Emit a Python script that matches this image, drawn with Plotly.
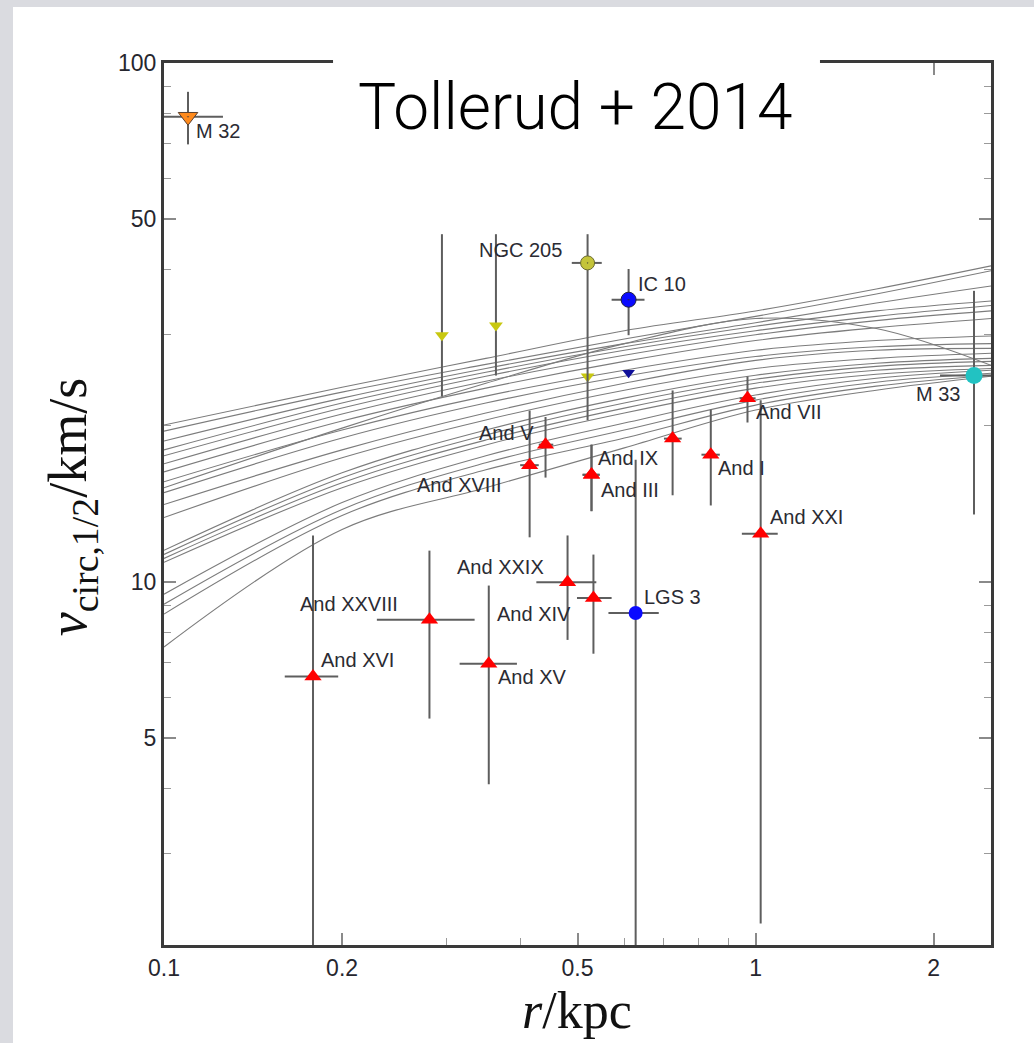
import numpy as np
import plotly.graph_objects as go

# ---- rotation curves of simulated satellites: radius (kpc) and v_circ (km/s) ----
curve_r = [0.1, 0.2, 0.35, 0.6, 1.0, 1.6, 2.5]
curves_v = [
    [20.07, 23.74, 26.98, 30.5, 33.3, 36.7, 40.66],
    [19.54, 23.23, 26.27, 29.4, 32.5, 35.9, 39.8],
    [18.7, 22.62, 25.8, 28.8, 31.6, 34.5, 37.2],
    [17.98, 22.13, 25.36, 28.4, 31.1, 33.3, 34.8],
    [17.51, 21.64, 24.92, 27.96, 30.5, 32.5, 34.1],
    [16.9, 21.08, 24.38, 27.35, 29.95, 31.9, 33.3],
    [16.31, 20.43, 23.64, 26.62, 29.2, 30.9, 32.2],
    [15.61, 19.63, 22.82, 25.6, 27.96, 29.2, 29.8],
    [14.87, 18.95, 22.13, 24.92, 27.2, 28.4, 28.8],
    [15.2, 19.8, 24.16, 28.8, 32.2, 30.8, 26.16],
    [14.11, 17.98, 21.17, 24.16, 26.74, 27.96, 28.2],
    [13.32, 17.36, 20.53, 23.43, 25.8, 26.98, 27.6],
    [11.52, 16.24, 19.63, 22.62, 25.03, 26.4, 26.98],
    [11.31, 15.89, 19.2, 22.13, 24.59, 26.04, 26.62],
    [11.11, 15.54, 18.78, 21.64, 24.16, 25.6, 26.16],
    [10.92, 15.2, 18.38, 21.17, 23.64, 25.14, 25.8],
    [9.48, 14.23, 17.51, 20.25, 22.93, 24.7, 25.6],
    [9.07, 13.8, 16.98, 19.63, 22.42, 24.27, 25.25],
    [8.68, 13.44, 16.46, 18.95, 21.93, 23.85, 25.03],
    [7.50, 12.63, 15.2, 18.14, 21.45, 23.43, 24.92],
]

# ---- M31 satellites: half-light radius and circular velocity with ranges ----
gal_names = ["M 32", "NGC 205", "", "", "", "IC 10", "", "M 33",
             "And XVI", "And XXVIII", "And XV", "And XXIX", "And XIV",
             "And XVIII", "And V", "And IX", "And III", "", "And I",
             "And VII", "And XXI", "LGS 3"]
gal_kind = ["m32", "n205", "ylim", "ylim", "ylim", "ic10", "blim", "m33",
            "dsph", "dsph", "dsph", "dsph", "dsph",
            "dsph", "dsph", "dsph", "dsph", "dsph", "dsph",
            "dsph", "dsph", "lgs3"]
gal_r = [0.1098, 0.520, 0.295, 0.364, 0.520, 0.610, 0.610, 2.34,
         0.1786, 0.281, 0.354, 0.481, 0.532,
         0.415, 0.4415, 0.528, 0.528, 0.724, 0.840,
         0.969, 1.02, 0.627]
gal_v = [78.8, 41.2, 29.9, 31.2, 24.9, 35.0, 25.3, 25.0,
         6.58, 8.46, 6.96, 10.0, 9.32,
         16.8, 18.4, 16.1, 16.1, 18.9, 17.6,
         22.6, 12.4, 8.72]
gal_r_lo = [0.1, 0.489, 0.295, 0.364, 0.520, 0.571, 0.610, 2.05,
            0.160, 0.229, 0.316, 0.426, 0.499,
            0.40, 0.43, 0.51, 0.51, 0.70, 0.81,
            0.94, 0.948, 0.564]
gal_r_hi = [0.1258, 0.5495, 0.295, 0.364, 0.520, 0.649, 0.610, 2.7,
            0.197, 0.335, 0.395, 0.538, 0.571,
            0.43, 0.455, 0.545, 0.545, 0.75, 0.87,
            1.0, 1.09, 0.686]
gal_v_lo = [69.7, 20.5, 22.8, 25.0, 24.9, 29.9, 25.3, 13.5,
            1.5, 5.46, 4.08, 7.74, 7.28,
            12.2, 15.9, 13.7, 13.7, 14.7, 14.05,
            20.3, 2.2, 1.5]
gal_v_hi = [88.0, 46.8, 46.8, 46.8, 24.9, 40.1, 25.3, 36.4,
            12.3, 11.5, 9.85, 12.3, 11.3,
            21.4, 20.8, 18.4, 18.4, 23.4, 21.5,
            24.9, 22.4, 17.2]

# label placement relative to each marker (pixels, anchor side)
label_offsets = {
    "M 32": (6, -14, "left"), "NGC 205": (-24, 13, "right"),
    "IC 10": (7, 16, "left"), "M 33": (-12, -18, "right"),
    "And XVI": (6, 17, "left"), "And XXVIII": (-29, 16, "right"),
    "And XV": (7, -13, "left"), "And XXIX": (-22, 15, "right"),
    "And XIV": (-20, -16, "right"), "And XVIII": (-26, -20, "right"),
    "And V": (-10, 12, "right"), "And IX": (4, 17, "left"),
    "And III": (7, -15, "left"), "And I": (5, -13, "left"),
    "And VII": (7, -14, "left"), "And XXI": (7, 17, "left"),
    "LGS 3": (6, 16, "left"),
}

marker_styles = {
    "m32": dict(symbol="triangle-down-dot", size=17, color="#ff8a1c",
                line=dict(color="#5a4030", width=1)),
    "n205": dict(symbol="circle-dot", size=14, color="#c4c43a",
                 line=dict(color="#6a6a30", width=1)),
    "ylim": dict(symbol="triangle-down", size=12, color="#c8c810", line=dict(width=0)),
    "blim": dict(symbol="triangle-down", size=11, color="#10109a", line=dict(width=0)),
    "ic10": dict(symbol="circle-dot", size=15, color="#0a0aff",
                 line=dict(color="#202040", width=1)),
    "m33": dict(symbol="circle", size=17, color="#22c2c2", line=dict(width=0)),
    "dsph": dict(symbol="triangle-up", size=15, color="#ff0000", line=dict(width=0)),
    "lgs3": dict(symbol="circle", size=14, color="#0a0aff", line=dict(width=0)),
}

fig = go.Figure()

for cv in curves_v:
    fig.add_trace(go.Scatter(x=curve_r, y=cv, mode="lines", line_shape="spline",
                             line=dict(color="#7c7c7c", width=1.1),
                             hoverinfo="skip", showlegend=False))

r = np.array(gal_r)
v = np.array(gal_v)
for kind in ["ylim", "blim", "n205", "ic10", "m33", "m32", "dsph", "lgs3"]:
    idx = [i for i, k in enumerate(gal_kind) if k == kind]
    xs, ys = r[idx], v[idx]
    fig.add_trace(go.Scatter(
        x=xs, y=ys, mode="markers", marker=marker_styles[kind],
        error_x=dict(type="data", symmetric=False,
                     array=np.array(gal_r_hi)[idx] - xs,
                     arrayminus=xs - np.array(gal_r_lo)[idx],
                     color="#5e5e5e", thickness=2, width=0),
        error_y=dict(type="data", symmetric=False,
                     array=np.array(gal_v_hi)[idx] - ys,
                     arrayminus=ys - np.array(gal_v_lo)[idx],
                     color="#5e5e5e", thickness=2, width=0),
        hoverinfo="skip", showlegend=False))

annotations = []
for name, gx, gy in zip(gal_names, gal_r, gal_v):
    if not name:
        continue
    dx, dy, side = label_offsets[name]
    annotations.append(dict(
        x=np.log10(gx), y=np.log10(gy), xref="x", yref="y", text=name,
        showarrow=False, xanchor=side, yanchor="middle", xshift=dx, yshift=dy,
        font=dict(family="Liberation Sans, Arial, sans-serif", size=20, color="#2b2b33")))

# axis titles and heading
annotations.append(dict(x=0.4994, y=-0.0737, xref="paper", yref="paper",
                        text="<i>r</i>/kpc", showarrow=False,
                        xanchor="center", yanchor="middle",
                        font=dict(family="Liberation Serif, serif", size=52, color="#111")))
annotations.append(dict(x=-0.111, y=0.4966, xref="paper", yref="paper",
                        text="<i>v</i><sub>circ,1/2</sub>/km/s", showarrow=False,
                        textangle=-90, xanchor="center", yanchor="middle",
                        font=dict(family="Liberation Serif, serif", size=54, color="#111")))
annotations.append(dict(x=0.4975, y=0.950, xref="paper", yref="paper",
                        text="Tollerud + 2014", showarrow=False,
                        xanchor="center", yanchor="middle",
                        font=dict(family="Roboto, Lato, sans-serif", size=64,
                                  color="#000", weight=300)))

shapes = [
    # grey page strips along the left and top edges
    dict(type="rect", xref="paper", yref="paper", x0=-0.25, x1=-0.1826, y0=-0.2, y1=1.2,
         fillcolor="#dadbe0", line=dict(width=0), layer="below"),
    dict(type="rect", xref="paper", yref="paper", x0=-0.25, x1=1.2, y0=1.0635, y1=1.2,
         fillcolor="#dadbe0", line=dict(width=0), layer="below"),
    # white box behind the heading
    dict(type="rect", xref="paper", yref="paper", x0=0.2044, x1=0.7932, y0=0.98, y1=1.03,
         fillcolor="white", line=dict(width=0), layer="above"),
]

x_major = [0.1, 0.2, 0.5, 1, 2]
x_minor = [0.3, 0.4, 0.6, 0.7, 0.8, 0.9]
y_major = [5, 10, 50, 100]
y_minor = [3, 4, 6, 7, 8, 9, 20, 30, 40, 60, 70, 80, 90]

axis_common = dict(type="log", showgrid=False, zeroline=False, showline=True,
                   linecolor="#3a3a3a", linewidth=3, mirror="ticks",
                   ticks="inside", ticklen=12, tickwidth=1.5, tickcolor="#8a8a8a",
                   tickfont=dict(family="Liberation Sans, Arial, sans-serif",
                                 size=23, color="#26262e"))

fig.update_layout(
    width=1034, height=1043, autosize=False,
    margin=dict(l=164, r=43, t=63, b=98),
    paper_bgcolor="white", plot_bgcolor="white",
    xaxis=dict(axis_common, range=[-1, np.log10(2.5)],
               tickvals=x_major, ticktext=[str(t) for t in x_major],
               minor=dict(tickvals=x_minor, ticks="inside", ticklen=7,
                          tickwidth=1.2, tickcolor="#9a9a9a")),
    yaxis=dict(axis_common, range=[np.log10(2), 2],
               tickvals=y_major, ticktext=[str(t) for t in y_major],
               minor=dict(tickvals=y_minor, ticks="inside", ticklen=7,
                          tickwidth=1.2, tickcolor="#9a9a9a")),
    annotations=annotations, shapes=shapes,
)

fig.write_html("out.html")
